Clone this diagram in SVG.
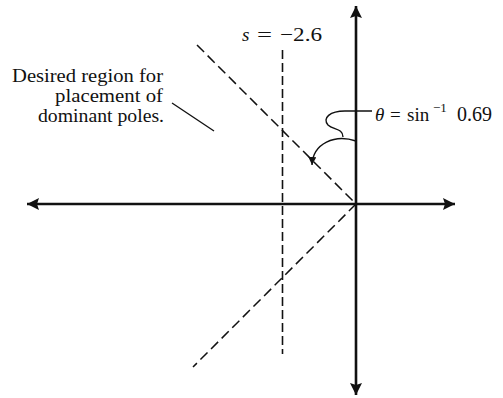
<svg xmlns="http://www.w3.org/2000/svg" width="503" height="398" viewBox="0 0 503 398">
<style>
.axis{stroke:#111;stroke-width:2.6;fill:none}
.dash{stroke:#111;stroke-width:1.5;fill:none;stroke-dasharray:10 5}
.vdash{stroke:#111;stroke-width:1.6;fill:none;stroke-dasharray:9 4}
.thin{stroke:#111;stroke-width:1.4;fill:none}
text{font-family:"Liberation Serif","Times New Roman",serif;font-size:18px;fill:#111}
.lbl{font-size:19px}
.big{font-size:20px}
.it{font-style:italic}
.sup{font-size:13px}
</style>
<defs>
<marker id="ah" viewBox="0 0 12 12" refX="12" refY="6" markerWidth="12" markerHeight="12" markerUnits="userSpaceOnUse" orient="auto-start-reverse">
<path d="M0,0 L12,6 L0,12 L2,6 Z" fill="#111"/>
</marker>
<marker id="sh" viewBox="0 0 8 8" refX="8" refY="4" markerWidth="8" markerHeight="8" markerUnits="userSpaceOnUse" orient="auto">
<path d="M0,0 L8,4 L0,8 Z" fill="#111"/>
</marker>
</defs>
<g id="connectors">
<line id="real-axis" class="axis" x1="27" y1="204" x2="455" y2="204" marker-start="url(#ah)" marker-end="url(#ah)"/>
<line id="imag-axis" class="axis" x1="356" y1="6" x2="356" y2="395" marker-start="url(#ah)" marker-end="url(#ah)"/>
<line id="upper-diag" class="dash" x1="197" y1="45" x2="356" y2="204"/>
<line id="lower-diag" class="dash" x1="356" y1="204" x2="193" y2="367"/>
<line id="s-line" class="vdash" x1="282.5" y1="50" x2="282.5" y2="354"/>
<line id="region-pointer" class="thin" x1="172" y1="103" x2="214" y2="131"/>
<path id="theta-leader" class="thin" d="M372,111 L345,111 C330,111 322,118 328,125 C333,130 343,128 343,137"/>
<path id="theta-arc" class="thin" d="M356,141 C335,134 313,143 312,165" marker-end="url(#sh)"/>
</g>
<g id="label-region">
<text x="12" y="82" textLength="151" lengthAdjust="spacingAndGlyphs">Desired region for</text>
<text x="55" y="102" textLength="108" lengthAdjust="spacingAndGlyphs">placement of</text>
<text x="38" y="122" textLength="126" lengthAdjust="spacingAndGlyphs">dominant poles.</text>
</g>
<g id="label-s">
<text class="it lbl" x="242" y="41">s</text>
<text class="lbl" x="257" y="41" textLength="15" lengthAdjust="spacingAndGlyphs">=</text>
<text class="lbl" x="280" y="41" textLength="42" lengthAdjust="spacingAndGlyphs">−2.6</text>
</g>
<g id="label-theta">
<text class="it lbl" x="375" y="121">θ</text>
<text class="lbl" x="390" y="121">=</text>
<text class="lbl" x="407" y="121">sin</text>
<text class="sup" x="433" y="112">−1</text>
<text class="big" x="457" y="121">0.69</text>
</g>
</svg>
